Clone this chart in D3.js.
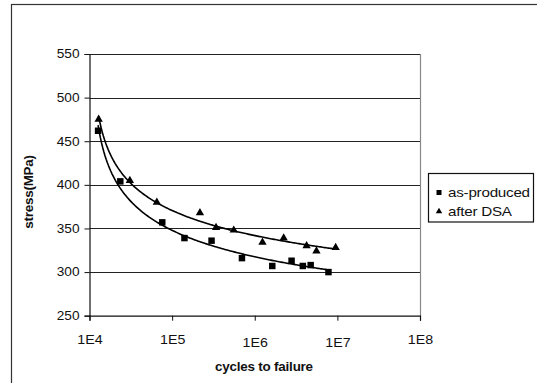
<!DOCTYPE html>
<html>
<head>
<meta charset="utf-8">
<script src="https://cdn.jsdelivr.net/npm/d3@7"></script>
<style>
  html, body { margin: 0; padding: 0; background: #fff; }
  svg { display: block; font-family: "Liberation Sans", Arial, sans-serif; }
</style>
</head>
<body>
<svg id="chart" width="537" height="383"></svg>
<script>
// S-N fatigue data: cycles to failure vs. stress amplitude (MPa)
const asProducedCycles = [1.27e4, 2.36e4, 7.6e4, 1.41e5, 3.0e5, 7.0e5, 1.63e6, 2.79e6, 3.82e6, 4.75e6, 7.8e6];
const asProducedStress = [462, 404, 357, 339, 336, 316, 307, 313, 307, 308, 300];
const afterDsaCycles   = [1.29e4, 3.08e4, 6.53e4, 2.17e5, 3.40e5, 5.57e5, 1.24e6, 2.24e6, 4.24e6, 5.58e6, 9.53e6];
const afterDsaStress   = [475, 405, 380, 368, 351, 348, 334, 339, 330, 324, 328];
const seriesNames = ["as-produced", "after DSA"];
const xTickValues = [1e4, 1e5, 1e6, 1e7, 1e8];
const xTickLabels = ["1E4", "1E5", "1E6", "1E7", "1E8"];
const yTickValues = [250, 300, 350, 400, 450, 500, 550];

const svg = d3.select("#chart");
const plot = { left: 89.5, right: 420, top: 54, bottom: 315.7 };

const x = d3.scaleLog().domain([1e4, 1e8]).range([plot.left, plot.right]);
const y = d3.scaleLinear().domain([250, 550]).range([plot.bottom, plot.top]);

// the chart's lettering is set slightly wide
function widen(sel, k) {
  sel.each(function () {
    const t = d3.select(this);
    const x0 = +(t.attr("x") || 0);
    t.attr("x", x0 / k).attr("transform", `scale(${k},1)`);
  });
}

// outer chart frame
svg.append("rect")
  .attr("x", 11.5).attr("y", 4.5).attr("width", 540).attr("height", 400)
  .attr("fill", "none").attr("stroke", "#333").attr("stroke-width", 1.2);

// horizontal gridlines
svg.append("g").selectAll("line")
  .data(yTickValues.filter(v => v > 250))
  .join("line")
  .attr("x1", plot.left).attr("x2", plot.right)
  .attr("y1", d => Math.round(y(d)) + 0.5).attr("y2", d => Math.round(y(d)) + 0.5)
  .attr("stroke", "#222").attr("stroke-width", 1);

// plot area right border
svg.append("line")
  .attr("x1", plot.right + 0.5).attr("x2", plot.right + 0.5)
  .attr("y1", plot.top).attr("y2", plot.bottom)
  .attr("stroke", "#888").attr("stroke-width", 1.2);

// y axis
const yAxis = d3.axisLeft(y).tickValues(yTickValues).tickSize(5).tickPadding(5).tickFormat(d3.format("d"));
const gy = svg.append("g").attr("transform", `translate(${plot.left},0)`).call(yAxis);
gy.select(".domain").attr("stroke", "#111").attr("stroke-width", 1.2);
gy.selectAll(".tick line").attr("stroke", "#111");
gy.selectAll(".tick text").attr("font-size", 12).attr("fill", "#111")
  .attr("font-family", "'Liberation Sans', Arial, sans-serif");
widen(gy.selectAll(".tick text"), 1.14);

// x axis (log)
const xAxis = d3.axisBottom(x).tickValues(xTickValues).tickSize(5)
  .tickFormat((d, i) => xTickLabels[i]);
const gx = svg.append("g").attr("transform", `translate(0,${plot.bottom})`).call(xAxis);
gx.select(".domain").attr("stroke", "#111").attr("stroke-width", 1.2);
gx.selectAll(".tick line").attr("stroke", "#111");
gx.selectAll(".tick text").attr("font-size", 12.5).attr("fill", "#111")
  .attr("font-family", "'Liberation Sans', Arial, sans-serif")
  .attr("y", (d, i) => (i === 2 || i === 3) ? 22 : 19.5);
widen(gx.selectAll(".tick text"), 1.14);

// axis titles
const xTitle = svg.append("text")
  .attr("x", 264).attr("y", 371).attr("text-anchor", "middle")
  .attr("font-size", 12).attr("font-weight", "bold").attr("fill", "#111")
  .attr("letter-spacing", -0.2)
  .text("cycles to failure");
widen(xTitle, 1.12);
svg.append("text")
  .attr("transform", "translate(33,192) rotate(-90) scale(1.12,1)").attr("text-anchor", "middle")
  .attr("font-size", 12).attr("font-weight", "bold").attr("fill", "#111")
  .attr("letter-spacing", -0.2)
  .text("stress(MPa)");

// power trendline y = a * u^b, with u the decade position on the axis (log10 N - 4)
function powerFit(xs, ys) {
  const u = xs.map(n => Math.log10(n) - 4);
  const lx = u.map(Math.log), ly = ys.map(Math.log);
  const mx = d3.mean(lx), my = d3.mean(ly);
  const b = d3.sum(lx, (v, i) => (v - mx) * (ly[i] - my)) / d3.sum(lx, v => (v - mx) * (v - mx));
  const a = Math.exp(my - b * mx);
  const [lo, hi] = d3.extent(u);
  return d3.range(0, 201).map(k => {
    const uu = lo + (hi - lo) * k / 200;
    return [Math.pow(10, uu + 4), a * Math.pow(uu, b)];
  });
}
const line = d3.line().x(d => x(d[0])).y(d => y(d[1])).curve(d3.curveLinear);

[[asProducedCycles, asProducedStress], [afterDsaCycles, afterDsaStress]].forEach(([xs, ys]) => {
  svg.append("path")
    .attr("d", line(powerFit(xs, ys)))
    .attr("fill", "none").attr("stroke", "#000").attr("stroke-width", 1.6);
});

// markers
const squareSym = d3.symbol().type(d3.symbolSquare);
const triSym = d3.symbol().type(d3.symbolTriangle);

svg.append("g").selectAll("path")
  .data(asProducedCycles.map((c, i) => [c, asProducedStress[i]]))
  .join("path")
  .attr("transform", d => `translate(${x(d[0])},${y(d[1])})`)
  .attr("d", squareSym.size(42)())
  .attr("fill", "#000");

svg.append("g").selectAll("path")
  .data(afterDsaCycles.map((c, i) => [c, afterDsaStress[i]]))
  .join("path")
  .attr("transform", d => `translate(${x(d[0])},${y(d[1])})`)
  .attr("d", triSym.size(30)())
  .attr("fill", "#000");

// legend
const lg = svg.append("g");
lg.append("rect")
  .attr("x", 428.5).attr("y", 173.5).attr("width", 105).attr("height", 48.5)
  .attr("fill", "#fff").attr("stroke", "#111").attr("stroke-width", 1.2);
const legendRows = [
  { name: seriesNames[0], sym: squareSym.size(25)(), cy: 192.5 },
  { name: seriesNames[1], sym: triSym.size(18)(), cy: 211.5 }
];
legendRows.forEach(r => {
  lg.append("path").attr("d", r.sym).attr("transform", `translate(439,${r.cy})`).attr("fill", "#000");
  const t = lg.append("text").attr("x", 448).attr("y", r.cy + 5)
    .attr("font-size", 13).attr("fill", "#111").attr("letter-spacing", -0.2)
    .text(r.name);
  widen(t, 1.17);
});
</script>
</body>
</html>
